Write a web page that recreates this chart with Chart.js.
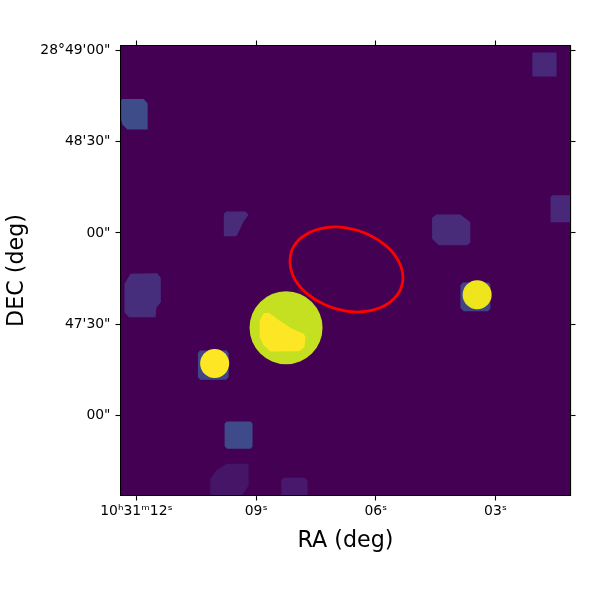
<!DOCTYPE html>
<html>
<head>
<meta charset="utf-8">
<style>
  html, body { margin: 0; padding: 0; background: #fff; }
  canvas { display: block; }
</style>
<script src="https://cdn.jsdelivr.net/npm/chart.js@4/dist/chart.umd.min.js"></script>
</head>
<body>
<canvas id="chart" width="600" height="600"></canvas>
<script>
// RA in seconds past 10h31m, DEC in arcsec past 28d47m
const raTicks = [12, 9, 6, 3];
const raTickLabels = ['10ʰ31ᵐ12ˢ', '09ˢ', '06ˢ', '03ˢ'];
const decTicks = [120, 90, 60, 30, 0];
const decTickLabels = ['28°49\'00"', '48\'30"', '00"', '47\'30"', '00"'];
const raRange = [1.12, 12.40];
const decRange = [-26.3, 121.64];

// source outlines, [ra, dec]
const blobTopLeft = [[12.40,103.56],[12.35,104.05],[11.82,104.05],[11.72,102.58],[11.72,94.03],[12.23,94.03],[12.35,95.67],[12.40,97.64]];
const blobTopRight = [[2.075,119.34],[1.47,119.34],[1.47,111.45],[2.075,111.45]];
const blobWedge = [[9.81,66.31],[9.74,67.07],[9.27,67.07],[9.19,65.98],[9.31,63.88],[9.46,59.74],[9.50,58.95],[9.81,58.95]];
const blobLeft = [[12.30,43.30],[12.15,46.59],[11.48,46.78],[11.39,45.27],[11.39,37.25],[11.50,35.41],[11.52,32.32],[12.19,32.32],[12.30,33.96]];
const blobMidRight = [[4.59,65.00],[4.48,66.08],[3.88,66.08],[3.63,63.55],[3.63,56.98],[3.71,55.99],[4.42,55.99],[4.59,58.09]];
const blobEdgeRight = [[1.62,71.77],[1.57,72.43],[1.07,72.43],[1.07,63.55],[1.62,63.55]];
const blobUnderRight = [[3.88,42.74],[3.82,43.73],[3.17,43.73],[3.13,43.07],[3.13,35.08],[3.19,34.29],[3.80,34.29],[3.88,35.41]];
const blobUnderLeft = [[10.46,20.48],[10.41,21.37],[9.74,21.37],[9.69,20.48],[9.69,12.59],[9.76,11.74],[10.40,11.74],[10.46,12.59]];
const blobLower = [[9.79,-2.73],[9.74,-1.97],[9.14,-1.97],[9.09,-2.73],[9.09,-10.19],[9.14,-10.95],[9.73,-10.95],[9.79,-10.09]];
const blobBottom = [[10.15,-20.81],[9.98,-17.85],[9.73,-15.88],[9.19,-15.88],[9.19,-23.01],[9.39,-26.96],[10.15,-26.96]];
const blobBottomMid = [[8.37,-21.37],[8.31,-20.48],[7.78,-20.48],[7.71,-21.37],[7.71,-26.96],[8.37,-26.96]];
const coreShape = [[8.91,31.23],[8.81,33.63],[8.68,33.76],[8.39,31.00],[8.10,28.50],[7.81,26.86],[7.76,25.74],[7.79,22.45],[7.93,21.14],[8.64,21.04],[8.81,23.01],[8.91,25.74]];

// round sources, centres only
const discLarge = [[8.25, 28.87]];
const discLeft = [[10.04, 17.10]];
const discRight = [[3.46, 39.68]];

// red region, first and last points only overlap so the spline closes smoothly
const regionEllipse = [[5.43,50.73],[5.32,45.27],[5.43,40.24],[5.74,36.39],[6.20,34.29],[6.74,34.29],[7.28,36.39],[7.74,40.24],[8.05,45.27],[8.15,50.73],[8.05,55.76],[7.74,59.61],[7.28,61.71],[6.74,61.71],[6.20,59.61],[5.74,55.76],[5.43,50.73],[5.32,45.27],[5.43,40.24]];

const toPoints = (pairs) => pairs.map(([x, y]) => ({ x, y }));

function shape(pairs, color) {
    return {
        data: toPoints(pairs),
        showLine: true,
        fill: 'shape',
        backgroundColor: color,
        borderWidth: 0,
        pointRadius: 0
    };
}

function disc(pairs, color, radius) {
    return {
        data: toPoints(pairs),
        showLine: false,
        pointRadius: radius,
        pointHoverRadius: radius,
        pointBackgroundColor: color,
        pointBorderWidth: 0
    };
}

// first dataset is drawn on top
const datasets = [
    {
        data: toPoints(regionEllipse),
        showLine: true,
        fill: false,
        borderColor: '#ff0000',
        borderWidth: 2.8,
        tension: 0.4,
        pointRadius: 0,
        segment: {
            borderColor: (ctx) => (ctx.p0DataIndex === 0 || ctx.p1DataIndex === regionEllipse.length - 1) ? 'transparent' : undefined
        }
    },
    disc(discLeft, '#fde725', 14.5),
    disc(discRight, '#efe51c', 14.5),
    shape(coreShape, '#fde725'),
    disc(discLarge, '#c5e021', 36.5),
    shape(blobTopLeft, '#3e4c8a'),
    shape(blobLower, '#3e4a89'),
    shape(blobUnderLeft, '#404588'),
    shape(blobUnderRight, '#404588'),
    shape(blobTopRight, '#482878'),
    shape(blobWedge, '#482c7a'),
    shape(blobLeft, '#472e7c'),
    shape(blobMidRight, '#482c7a'),
    shape(blobEdgeRight, '#482878'),
    shape(blobBottom, '#461568'),
    shape(blobBottomMid, '#47186b')
];

// plot area background (empty pixels of the map)
const mapBackground = {
    id: 'mapBackground',
    beforeDatasetsDraw(chart) {
        const { ctx, chartArea } = chart;
        ctx.save();
        ctx.fillStyle = '#440154';
        ctx.fillRect(chartArea.left, chartArea.top, chartArea.width, chartArea.height);
        ctx.restore();
    }
};

const tickFont = { family: '"DejaVu Sans"', size: 13.9 };
const titleFont = { family: '"DejaVu Sans"', size: 22.2 };
const gridStyle = { drawOnChartArea: false, tickLength: 5, tickColor: '#000', tickWidth: 1.1 };
const borderStyle = { color: '#000', width: 1.1, z: 1 };

function setTicks(values) {
    return (scale) => { scale.ticks = values.map((value) => ({ value })); };
}

new Chart(document.getElementById('chart').getContext('2d'), {
    type: 'scatter',
    data: { datasets },
    plugins: [mapBackground],
    options: {
        responsive: false,
        animation: false,
        layout: { padding: 0, autoPadding: false },
        plugins: { legend: { display: false }, tooltip: { enabled: false } },
        scales: {
            x: {
                type: 'linear',
                position: 'bottom',
                reverse: true,
                min: raRange[0],
                max: raRange[1],
                afterBuildTicks: setTicks(raTicks),
                afterFit: (scale) => { scale.height = 104.5; },
                grid: gridStyle,
                border: borderStyle,
                ticks: {
                    autoSkip: false,
                    maxRotation: 0,
                    color: '#000',
                    font: tickFont,
                    padding: 3,
                    callback: (value) => raTickLabels[raTicks.indexOf(value)]
                },
                title: {
                    display: true,
                    text: 'RA (deg)',
                    color: '#000',
                    font: titleFont,
                    padding: { top: 0, bottom: 45 }
                }
            },
            y: {
                type: 'linear',
                position: 'left',
                min: decRange[0],
                max: decRange[1],
                afterBuildTicks: setTicks(decTicks),
                afterFit: (scale) => { scale.width = 120.5; },
                grid: gridStyle,
                border: borderStyle,
                ticks: {
                    autoSkip: false,
                    color: '#000',
                    font: tickFont,
                    padding: 5,
                    callback: (value) => decTickLabels[decTicks.indexOf(value)]
                },
                title: {
                    display: true,
                    text: 'DEC (deg)',
                    color: '#000',
                    font: titleFont,
                    padding: { top: 4, bottom: 0 }
                }
            },
            xTop: {
                type: 'linear',
                position: 'top',
                reverse: true,
                min: raRange[0],
                max: raRange[1],
                afterBuildTicks: setTicks(raTicks),
                afterFit: (scale) => { scale.height = 45.5; },
                grid: gridStyle,
                border: borderStyle,
                ticks: { autoSkip: false, callback: () => '' }
            },
            yRight: {
                type: 'linear',
                position: 'right',
                min: decRange[0],
                max: decRange[1],
                afterBuildTicks: setTicks(decTicks),
                afterFit: (scale) => { scale.width = 29.5; },
                grid: gridStyle,
                border: borderStyle,
                ticks: { autoSkip: false, callback: () => '' }
            }
        }
    }
});
</script>
</body>
</html>
